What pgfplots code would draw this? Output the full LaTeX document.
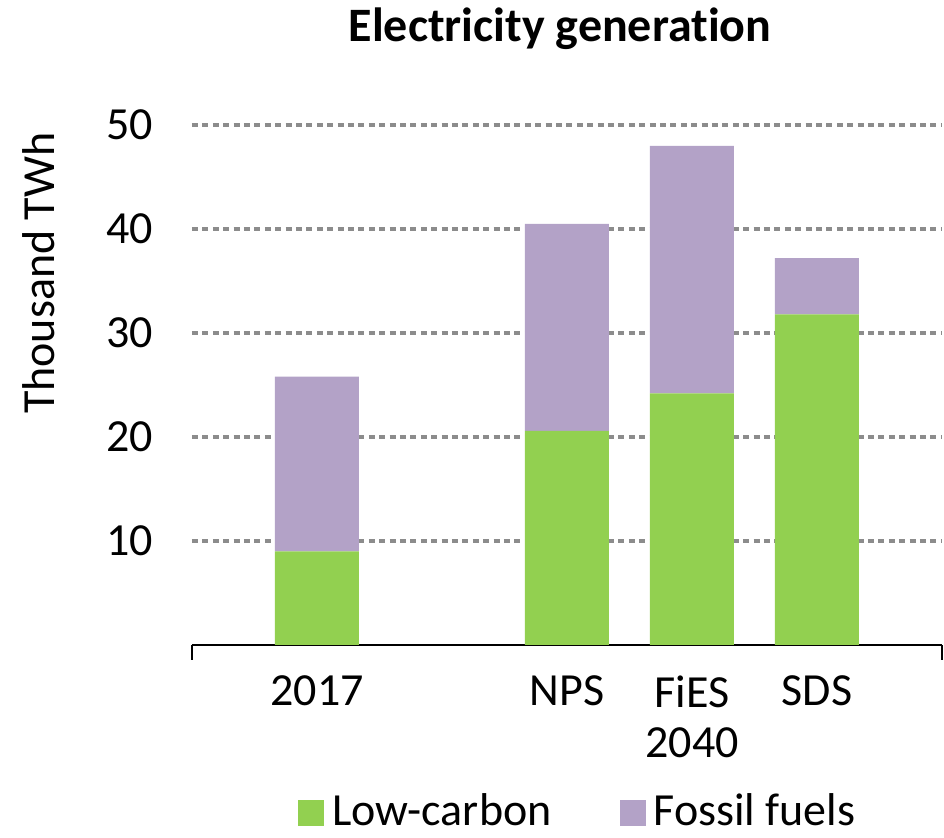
\documentclass[border=0pt]{standalone}
\usepackage{pgfplots}
\pgfplotsset{compat=1.18}
\usepackage{fontspec}
\setmainfont{Carlito}[Ligatures=NoCommon]
\definecolor{lowc}{HTML}{92D050}
\definecolor{foss}{HTML}{B3A2C7}
\definecolor{gridc}{HTML}{8C8C8C}
\newcommand{\lf}{\fontsize{23pt}{25pt}\selectfont}
\begin{document}
\lf
\begin{tikzpicture}
\begin{axis}[
  scale only axis,
  width=375pt, height=260pt,
  ybar stacked,
  bar width=42pt,
  xmin=-1, xmax=5,
  ymin=0, ymax=50,
  xtick={0,2,3,4},
  xticklabels={2017,NPS,{FiES\\2040},SDS},
  xticklabel style={align=center, font=\lf, yshift=-7.5pt},
  xtick style={black, line width=1pt},
  major tick length=0pt,
  extra x ticks={-1,5},
  extra x tick labels={},
  extra x tick style={grid=none, major tick length=7.5pt, tick align=outside},
  ytick={10,20,30,40,50},
  yticklabel style={font=\lf, xshift=-11.5pt},
  ytick style={draw=none},
  /pgf/number format/assume math mode=true,
  axis x line*=bottom,
  axis y line*=left,
  y axis line style={draw=none},
  x axis line style={black, line width=1pt, -},
  ymajorgrids,
  grid style={gridc, line width=1.8pt, dash pattern=on 3pt off 2.2pt},
  title={\bfseries Electricity generation},
  title style={at={(0.5,1)}, anchor=base, yshift=35.5pt, xshift=-3.5pt, font=\fontsize{24pt}{28pt}\selectfont},
  ylabel={Thousand TWh},
  ylabel style={at={(axis description cs:-0.1827,0.715)}, anchor=base, font=\lf},
  legend columns=2,
  legend style={at={(0.5,0)}, anchor=center, yshift=-84pt, xshift=6pt, draw=none, fill=none,
    font=\lf, inner sep=0pt,
    /tikz/every odd column/.append style={column sep=2pt},
    /tikz/every even column/.append style={column sep=32pt}},
  legend image code/.code={\fill[#1] (0pt,-6.5pt) rectangle (13pt,6.5pt);},
]
\addplot[fill=lowc, draw=none] coordinates {(0,9.0) (2,20.6) (3,24.2) (4,31.8)};
\addplot[fill=foss, draw=none] coordinates {(0,16.8) (2,19.9) (3,23.8) (4,5.4)};
\legend{Low-carbon, Fossil fuels}
\coordinate (bl) at (rel axis cs:0,0);
\end{axis}
\pgfresetboundingbox
\path[use as bounding box] ([xshift=-96pt,yshift=-96.5pt]bl) rectangle ([xshift=376pt,yshift=322.5pt]bl);
\end{tikzpicture}
\end{document}
